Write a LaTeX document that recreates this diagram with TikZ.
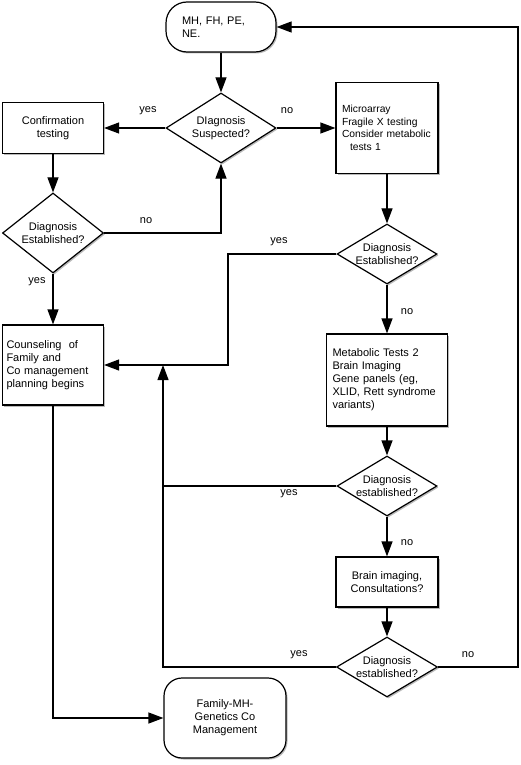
\documentclass[tikz,border=0pt]{standalone}
\usepackage{fontspec}
\setmainfont{Liberation Sans}
\usetikzlibrary{arrows.meta,shapes.geometric,shadows}
\begin{document}
\begin{tikzpicture}[x=1pt,y=-1pt,line width=1.2pt,font=\fontsize{11}{13}\selectfont,
  boxshadow/.style={drop shadow={shadow xshift=1.5pt,shadow yshift=-1.5pt,fill=black!45,opacity=0.6}},
  box/.style={draw,fill=white,boxshadow,rectangle,inner ysep=0pt},
  term/.style={box},
  decide/.style={draw,fill=white,boxshadow,diamond,inner sep=-3pt,align=center},
  arr/.style={-{Triangle[length=15pt,width=11pt]}}]
\useasboundingbox (0,0) rectangle (520,765);
% left column
\node[term,rounded corners=21pt,minimum height=50pt,text width=78pt,inner xsep=16pt,align=left] (start) at (221,27) {MH, FH, PE,\\NE.};
\node[decide,minimum width=110pt,minimum height=70pt,shape aspect=1.57] (diag1) at (221,128) {DIagnosis\\Suspected?};
\node[box,minimum width=101pt,minimum height=51pt,align=center] (confirm) at (53,128) {Confirmation\\testing};
\node[decide,minimum width=101pt,minimum height=80pt,shape aspect=1.26] (diag2) at (53,233) {Diagnosis\\Established?};
\node[box,minimum height=80pt,text width=93pt,inner xsep=4pt,align=left] (counsel) at (53,365) {Counseling\ \ of\\Family and\\Co management\\planning begins};
\node[term,rounded corners=18pt,minimum width=122pt,minimum height=80pt,align=center] (final) at (225,718) {Family-MH-\\Genetics Co\\Management};
% right column
\node[box,minimum height=91pt,text width=90pt,inner xsep=6pt,align=left,font=\fontsize{10.3}{12.5}\selectfont] (micro) at (387,128) {Microarray\\Fragile X testing\\Consider metabolic\\\hspace*{8pt}tests 1};
\node[decide,minimum width=100pt,minimum height=60pt,shape aspect=1.67] (diag3) at (387,254) {Diagnosis\\Established?};
\node[box,minimum height=92pt,text width=109pt,inner xsep=6pt,align=left] (metab) at (387,380) {Metabolic Tests 2\\Brain Imaging\\Gene panels (eg,\\XLID, Rett syndrome\\variants)};
\node[decide,minimum width=100pt,minimum height=60pt,shape aspect=1.67] (diag4) at (387,486) {Diagnosis\\established?};
\node[box,minimum width=102pt,minimum height=50pt,align=center] (brain) at (387,582) {Brain imaging,\\Consultations?};
\node[decide,minimum width=101pt,minimum height=60pt,shape aspect=1.68] (diag5) at (387,667) {Diagnosis\\established?};
% bends
\coordinate (bend1) at (228,365);
\coordinate (bend2) at (163,667);
\coordinate (bend3) at (163,365);
\coordinate (bend4) at (518,27);
% connectors
\draw[arr] (start) -- (diag1);
\draw[arr] (diag1) -- (confirm);
\draw[arr] (diag1) -- (micro);
\draw[arr] (confirm) -- (diag2);
\draw[arr] (diag2.east) -| (diag1.south);
\draw[arr] (diag2) -- (counsel);
\draw[arr] (micro) -- (diag3);
\draw[arr] (diag3.west) -| (bend1) -- (counsel.east);
\draw[arr] (diag3) -- (metab);
\draw[arr] (metab) -- (diag4);
\draw[arr] (diag4) -- (brain);
\draw[arr] (brain) -- (diag5);
\draw (diag4.west) -- (diag4.west -| bend2);
\draw[arr] (diag5.west) -- (bend2) -- (bend3);
\draw[arr] (diag5.east) -| (bend4) -- (start.east);
\draw[arr] (counsel.south) |- (final.west);
% labels
\node (yes1) at (148,111) {yes};
\node (no1) at (287,111) {no};
\node (no2) at (146,221) {no};
\node (yes2) at (37,282) {yes};
\node (yes3) at (279,242) {yes};
\node (no3) at (407,312) {no};
\node (yes4) at (289,494) {yes};
\node (no4) at (407,543) {no};
\node (yes5) at (299,655) {yes};
\node (no5) at (468,655) {no};
\end{tikzpicture}
\end{document}
